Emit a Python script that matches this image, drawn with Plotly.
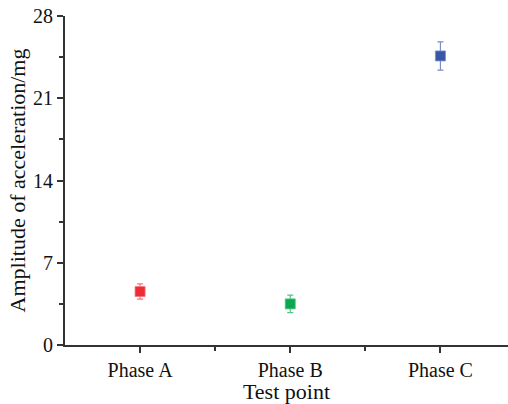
import plotly.graph_objects as go

categories = ["Phase A", "Phase B", "Phase C"]
positions = [1, 2, 3]
values = [4.55, 3.5, 24.6]
errors = [0.65, 0.75, 1.2]
colors = ["#EE2C37", "#0BA84F", "#3A56A6"]
err_colors = ["#F3737A", "#55C286", "#7A8FC8"]
y_ticks = [0, 7, 14, 21, 28]

fig = go.Figure()
for x, v, e, c, ec in zip(positions, values, errors, colors, err_colors):
    fig.add_trace(go.Scatter(
        x=[x], y=[v], mode="markers",
        marker=dict(symbol="square", size=10, color=c, line=dict(width=0.8, color=ec)),
        error_y=dict(type="data", array=[e], visible=True, color=ec, thickness=1.2, width=3),
        showlegend=False,
    ))

font_family = "Liberation Serif"
fig.update_layout(
    width=508, height=404,
    margin=dict(l=65, r=0, t=16, b=59),
    paper_bgcolor="white", plot_bgcolor="white",
    font=dict(family=font_family, color="#111111", size=20),
)
fig.update_xaxes(
    range=[0.5, 3.45],
    tickmode="array", tickvals=positions, ticktext=categories,
    showline=True, linecolor="#333333", linewidth=2,
    ticks="outside", ticklen=6, tickwidth=1.5, tickcolor="#333333",
    minor=dict(tickvals=[1.5, 2.5, 3.5], ticks="outside", ticklen=4, tickwidth=1.5, tickcolor="#333333"),
    showgrid=False, zeroline=False,
    tickfont=dict(size=20, family=font_family),
    title=dict(text="Test point", font=dict(size=22, family=font_family), standoff=2),
)
fig.update_yaxes(
    range=[0, 28],
    tickmode="array", tickvals=y_ticks,
    showline=True, linecolor="#333333", linewidth=2,
    ticks="outside", ticklen=6, tickwidth=1.5, tickcolor="#333333",
    minor=dict(tickvals=[3.5, 10.5, 17.5, 24.5], ticks="outside", ticklen=4, tickwidth=1.5, tickcolor="#333333"),
    showgrid=False, zeroline=False,
    tickfont=dict(size=20, family=font_family),
    title=dict(text="Amplitude of acceleration/mg", font=dict(size=22, family=font_family), standoff=1),
)

fig.write_html("out.html")
